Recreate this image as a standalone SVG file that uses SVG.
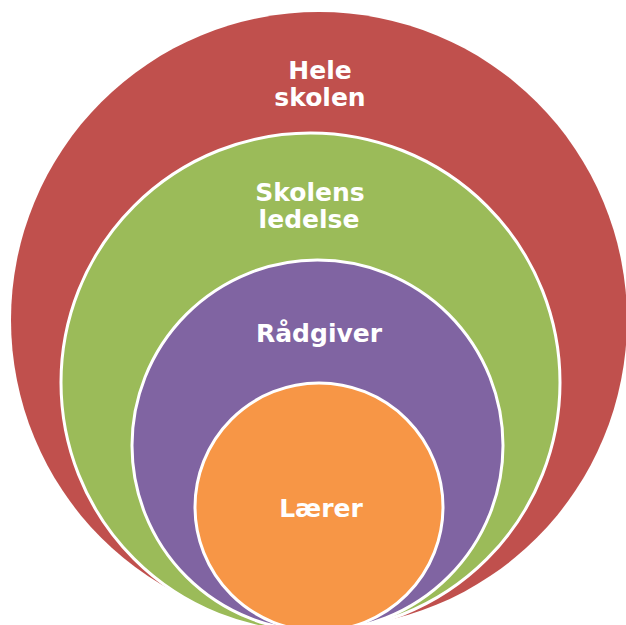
<svg xmlns="http://www.w3.org/2000/svg" width="626" height="625" viewBox="0 0 626 625">
  <style>
    .ring { stroke: #ffffff; stroke-width: 3; }
    .lbl { font-family: "DejaVu Sans", Verdana, sans-serif; font-weight: bold; font-size: 25px; fill: #ffffff; text-anchor: middle; }
  </style>
  <rect x="0" y="0" width="626" height="625" fill="#ffffff"/>
  <g id="node-hele-skolen">
    <circle cx="319" cy="320" r="308" fill="#C0504D" stroke="none"/>
    <text class="lbl" x="320" y="79">Hele</text>
    <text class="lbl" x="320" y="106">skolen</text>
  </g>
  <g id="node-skolens-ledelse">
    <circle class="ring" cx="310.5" cy="382.5" r="249.5" fill="#9BBB59"/>
    <text class="lbl" x="310" y="201">Skolens</text>
    <text class="lbl" x="309" y="228">ledelse</text>
  </g>
  <g id="node-raadgiver">
    <circle class="ring" cx="317.5" cy="445.5" r="185.5" fill="#8064A2"/>
    <text class="lbl" x="319" y="342">Rådgiver</text>
  </g>
  <g id="node-laerer">
    <circle class="ring" cx="319" cy="507" r="124" fill="#F79646"/>
    <text class="lbl" x="321" y="517">Lærer</text>
  </g>
  <g id="connectors"></g>
</svg>
